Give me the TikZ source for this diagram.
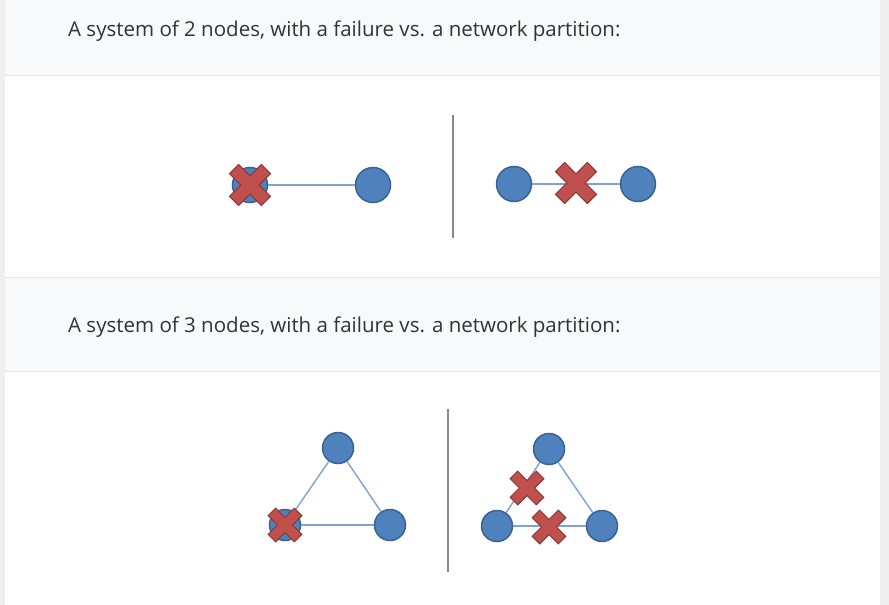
\documentclass[tikz,border=0pt]{standalone}
\usepackage{fontspec}
\setmainfont{Open Sans}
\usetikzlibrary{chains,scopes}

\definecolor{pagegray}{HTML}{EFEFEF}
\definecolor{headbg}{HTML}{F8F9FB}
\definecolor{rulegray}{HTML}{E6E6E6}
\definecolor{captext}{HTML}{333333}
\definecolor{peerfill}{HTML}{4F81BD}
\definecolor{peerline}{HTML}{3A6291}
\definecolor{linkblue}{HTML}{7EA3D2}
\definecolor{xfill}{HTML}{C0504D}
\definecolor{xline}{HTML}{8C3836}
\definecolor{splitgray}{HTML}{888888}

\begin{document}
\begin{tikzpicture}[x=1pt,y=-1pt,
    peer/.style={circle,draw=peerline,fill=peerfill,line width=1.5pt,minimum size=35pt,inner sep=0pt},
    smallpeer/.style={peer,minimum size=31pt},
    every on chain/.append style={join},
    every join/.style={draw=linkblue,line width=1.4pt},
    caption/.style={anchor=base west,inner sep=0pt,text=captext,font=\fontsize{20.5}{24}\selectfont},
    split/.style={draw=splitgray,line width=1.8pt},
    failx/.pic={
        \draw[draw=xline,fill=xfill,line width=1pt,rotate=45]
            (6.5,6.5) -- (6.5,22.5) -- (-6.5,22.5) -- (-6.5,6.5) -- (-22.5,6.5) -- (-22.5,-6.5)
            -- (-6.5,-6.5) -- (-6.5,-22.5) -- (6.5,-22.5) -- (6.5,-6.5) -- (22.5,-6.5) -- (22.5,6.5) -- cycle;
    }
    ]
    % page and panels
    \fill[pagegray] (0,0) rectangle (889,605);
    \fill[white] (5,0) rectangle (880,605);
    \fill[headbg] (5,0) rectangle (880,75);
    \fill[headbg] (5,277) rectangle (880,371);
    \draw[rulegray] (5,75.5) -- (880,75.5);
    \draw[rulegray] (5,277) -- (880,277);
    \draw[rulegray] (5,371) -- (880,371);

    \node[caption] (cap2) at (68,36) {A system of 2 nodes, with a failure vs. a network partition:};
    \node[caption] (cap3) at (68,332) {A system of 3 nodes, with a failure vs. a network partition:};

    % 2 nodes
    \node[peer] (fa) at (250,185) {};
    \node[peer] (fb) at (373,185) {};
    \node[peer] (pa) at (514,184) {};
    \node[peer] (pb) at (638,184) {};
    \coordinate (s2top) at (453,115);
    \coordinate (s2bot) at (453,238);
    \draw[split] (s2top) -- (s2bot);
    { [start chain]
        \chainin (fa);
        \chainin (fb);
    }
    { [start chain]
        \chainin (pa);
        \chainin (pb);
    }
    \pic at (fa) {failx};
    \pic at (576,183) {failx};

    % 3 nodes
    \node[smallpeer] (ft) at (338,448) {};
    \node[smallpeer] (fl) at (285,525) {};
    \node[smallpeer] (fr) at (390,525) {};
    \node[smallpeer] (pt) at (549,449) {};
    \node[smallpeer] (pl) at (497,526) {};
    \node[smallpeer] (pr) at (602,526) {};
    \coordinate (s3top) at (448,409);
    \coordinate (s3bot) at (448,572);
    \draw[split] (s3top) -- (s3bot);
    { [start chain]
        \chainin (fl);
        \chainin (ft);
        \chainin (fr);
        \chainin (fl);
    }
    { [start chain]
        \chainin (pl);
        \chainin (pt);
        \chainin (pr);
        \chainin (pl);
    }
    \pic[scale=0.82] at (fl) {failx};
    \pic[scale=0.82] at (527,488) {failx};
    \pic[scale=0.82] at (549,527) {failx};
\end{tikzpicture}
\end{document}
